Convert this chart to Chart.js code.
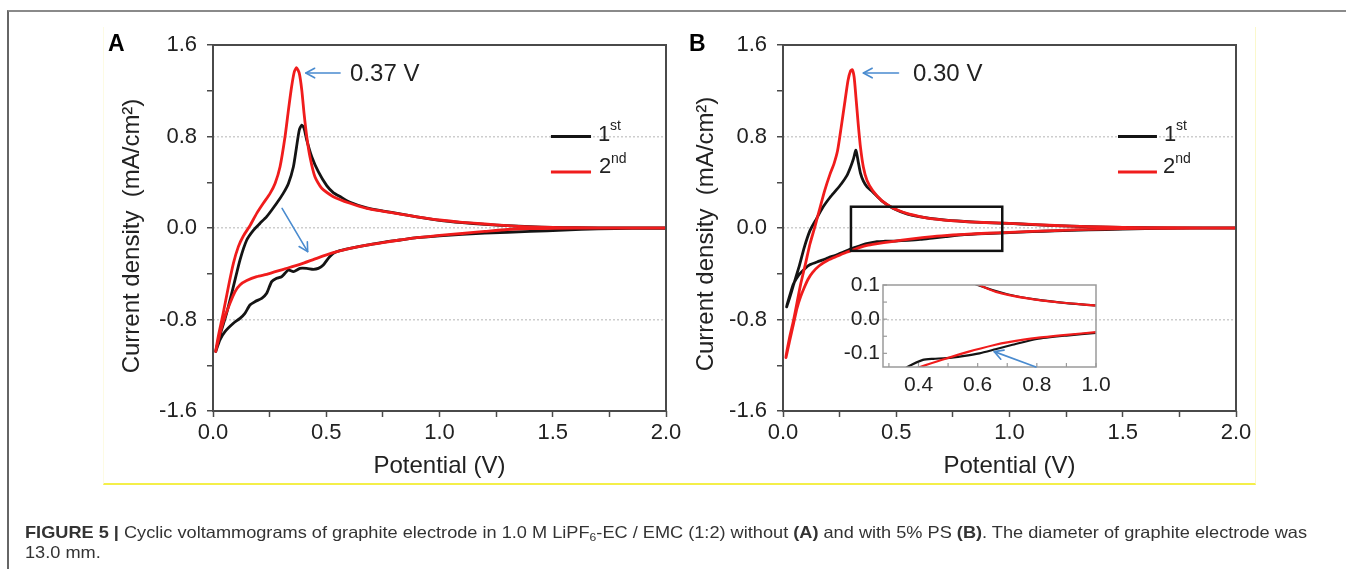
<!DOCTYPE html>
<html><head><meta charset="utf-8">
<script src="https://cdn.jsdelivr.net/npm/chart.js@4.4.1/dist/chart.umd.min.js"></script>
<style>
html,body{margin:0;padding:0;background:#fff;}
body{width:1346px;height:569px;overflow:hidden;position:relative;font-family:"Liberation Sans",Arial,sans-serif;}
.frame{position:absolute;left:7px;top:10px;width:1339px;height:559px;border-left:2px solid #666;border-top:2px solid #8a8a8a;}
.yel{position:absolute;left:103px;top:27px;width:1151px;height:456px;border-right:1px solid #fbf8cc;border-left:1px solid #fdfbe4;border-bottom:2px solid #f4ef4a;}
canvas{position:absolute;left:0;top:0;}
.cap{position:absolute;left:25px;font-size:16.5px;line-height:20px;color:#333;white-space:nowrap;transform-origin:0 50%;}
.cap sub{font-size:11px;vertical-align:-3px;line-height:0;}
</style></head><body>
<div class="frame"></div>
<div class="yel"></div>
<canvas id="cA" width="1346" height="569"></canvas>
<canvas id="cB" width="1346" height="569"></canvas>
<canvas id="cI" width="1346" height="569"></canvas>
<div id="cap1" class="cap" style="top:522px"><b>FIGURE 5 |</b> Cyclic voltammograms of graphite electrode in 1.0 M LiPF<sub>6</sub>-EC / EMC (1:2) without <b>(A)</b> and with 5% PS <b>(B)</b>. The diameter of graphite electrode was</div>
<div id="cap2" class="cap" style="top:542px">13.0 mm.</div>
<script>
// ---------------- DATA (potential V, current density mA/cm2) ----------------
const A_1st = [[2.0,-0.002],[1.85,-0.004],[1.7,-0.008],[1.55,-0.018],[1.4,-0.03],[1.2,-0.045],[1.0,-0.068],[0.9,-0.085],[0.826,-0.105],[0.75,-0.125],[0.679,-0.149],[0.605,-0.178],[0.56,-0.198],[0.531,-0.221],[0.509,-0.265],[0.487,-0.323],[0.465,-0.353],[0.443,-0.361],[0.414,-0.353],[0.384,-0.353],[0.355,-0.382],[0.333,-0.367],[0.318,-0.396],[0.303,-0.426],[0.281,-0.44],[0.259,-0.469],[0.237,-0.571],[0.215,-0.615],[0.185,-0.644],[0.163,-0.673],[0.141,-0.746],[0.119,-0.79],[0.09,-0.833],[0.053,-0.906],[0.03,-0.98],[0.012,-1.08],
  [0.031,-0.935],[0.06,-0.746],[0.09,-0.513],[0.119,-0.28],[0.149,-0.105],[0.178,-0.02],[0.207,0.04],[0.237,0.099],[0.281,0.216],[0.31,0.303],[0.333,0.39],[0.355,0.536],[0.369,0.711],[0.381,0.857],[0.392,0.9],[0.402,0.872],[0.414,0.769],[0.436,0.623],[0.465,0.492],[0.502,0.37],[0.531,0.31],[0.561,0.275],[0.605,0.225],[0.679,0.176],[0.752,0.148],[0.826,0.124],[0.9,0.098],[1.0,0.067],[1.1,0.047],[1.2,0.032],[1.3,0.02],[1.4,0.011],[1.5,0.005],[1.6,0.002],[1.8,0.0],[2.0,0.0]];
const A_2nd = [[2.0,0.0],[1.7,-0.001],[1.5,-0.003],[1.4,-0.006],[1.3,-0.013],[1.2,-0.03],[1.1,-0.048],[1.0,-0.065],[0.9,-0.085],[0.826,-0.105],[0.75,-0.127],[0.679,-0.149],[0.605,-0.178],[0.531,-0.216],[0.458,-0.265],[0.384,-0.318],[0.311,-0.361],[0.237,-0.405],[0.193,-0.425],[0.149,-0.46],[0.119,-0.498],[0.097,-0.557],[0.075,-0.658],[0.053,-0.775],[0.031,-0.921],[0.012,-1.08],
  [0.023,-0.95],[0.045,-0.746],[0.068,-0.513],[0.09,-0.309],[0.112,-0.163],[0.134,-0.07],[0.163,0.02],[0.193,0.128],[0.222,0.216],[0.252,0.303],[0.274,0.39],[0.296,0.536],[0.318,0.798],[0.333,1.031],[0.347,1.235],[0.359,1.366],[0.369,1.401],[0.381,1.352],[0.392,1.206],[0.402,1.002],[0.414,0.798],[0.428,0.623],[0.45,0.448],[0.48,0.347],[0.531,0.274],[0.605,0.216],[0.679,0.172],[0.826,0.122],[0.9,0.098],[1.0,0.07],[1.1,0.05],[1.2,0.035],[1.3,0.02],[1.4,0.01],[1.5,0.005],[1.6,0.002],[1.8,0.0],[2.0,0.0]];
const B_1st = [[2.0,0.0],[1.8,-0.001],[1.6,-0.005],[1.5,-0.01],[1.35,-0.016],[1.2,-0.025],[1.1,-0.032],[1.0,-0.04],[0.9,-0.048],[0.8,-0.058],[0.718,-0.075],[0.66,-0.088],[0.606,-0.1],[0.55,-0.108],[0.494,-0.114],[0.45,-0.116],[0.415,-0.119],[0.364,-0.139],[0.34,-0.155],[0.306,-0.178],[0.28,-0.2],[0.241,-0.232],[0.2,-0.26],[0.16,-0.29],[0.12,-0.32],[0.094,-0.36],[0.07,-0.41],[0.046,-0.49],[0.03,-0.59],[0.016,-0.69],
  [0.028,-0.62],[0.046,-0.5],[0.07,-0.345],[0.094,-0.169],[0.119,-0.023],[0.143,0.064],[0.176,0.181],[0.208,0.269],[0.233,0.327],[0.257,0.385],[0.282,0.458],[0.298,0.531],[0.311,0.604],[0.322,0.68],[0.332,0.58],[0.342,0.48],[0.355,0.41],[0.371,0.36],[0.396,0.315],[0.436,0.237],[0.485,0.173],[0.55,0.122],[0.6,0.1],[0.7,0.073],[0.8,0.057],[0.9,0.047],[1.0,0.04],[1.1,0.03],[1.2,0.021],[1.35,0.011],[1.5,0.005],[1.7,0.001],[2.0,0.0]];
const B_2nd = [[2.0,0.0],[1.7,-0.002],[1.5,-0.006],[1.3,-0.015],[1.1,-0.03],[1.0,-0.038],[0.9,-0.046],[0.8,-0.055],[0.7,-0.068],[0.66,-0.075],[0.57,-0.095],[0.48,-0.119],[0.41,-0.139],[0.371,-0.152],[0.34,-0.17],[0.306,-0.195],[0.28,-0.212],[0.241,-0.245],[0.2,-0.28],[0.16,-0.33],[0.13,-0.39],[0.11,-0.45],[0.094,-0.52],[0.078,-0.6],[0.062,-0.7],[0.046,-0.84],[0.03,-0.98],[0.013,-1.133],
  [0.029,-0.958],[0.046,-0.812],[0.062,-0.651],[0.078,-0.491],[0.099,-0.315],[0.119,-0.14],[0.14,0.006],[0.16,0.152],[0.184,0.327],[0.208,0.473],[0.225,0.561],[0.241,0.677],[0.257,0.882],[0.274,1.115],[0.287,1.29],[0.298,1.372],[0.306,1.384],[0.314,1.32],[0.322,1.145],[0.332,0.911],[0.342,0.707],[0.355,0.531],[0.371,0.415],[0.396,0.327],[0.436,0.239],[0.485,0.175],[0.55,0.125],[0.6,0.102],[0.662,0.08],[0.774,0.06],[0.887,0.048],[1.0,0.04],[1.1,0.031],[1.2,0.022],[1.35,0.012],[1.5,0.006],[1.7,0.002],[2.0,0.0]];

const SERIES_NAMES = ['1st', '2nd'];
const X_TICK_VALUES = [0, 0.5, 1.0, 1.5, 2.0];
const X_TICK_LABELS = ['0.0', '0.5', '1.0', '1.5', '2.0'];
const X_MINOR = [0.25, 0.75, 1.25, 1.75];
const Y_TICK_VALUES = [-1.6, -0.8, 0, 0.8, 1.6];
const Y_TICK_LABELS = ['-1.6', '-0.8', '0.0', '0.8', '1.6'];
const Y_MINOR = [-1.2, -0.4, 0.4, 1.2];
const Y_GRID = [-0.8, 0, 0.8];
const INSET_X_VALUES = [0.4, 0.6, 0.8, 1.0];
const INSET_X_LABELS = ['0.4', '0.6', '0.8', '1.0'];
const INSET_X_MINOR = [0.3, 0.5, 0.7, 0.9];
const INSET_Y_VALUES = [-0.1, 0, 0.1];
const INSET_Y_LABELS = ['-0.1', '0.0', '0.1'];

// ---------------- STYLE ----------------
const FONT = "'Liberation Sans', Arial, sans-serif";
const RED = '#f01c1c', BLACK = '#141414', BLUE = '#4a8bcf', AXIS = '#4a4a4a', TXT = '#222';

const toXY = s => s.map(p => ({x: p[0], y: p[1]}));
const labelFor = (v, vals, labs) => { const k = vals.findIndex(t => Math.abs(t - v) < 1e-6); return k >= 0 ? labs[k] : ''; };
const sortNum = a => a.slice().sort((p, q) => p - q);

function drawArrow(ctx, x1, y1, x2, y2, color, w, head) {
  ctx.save();
  ctx.strokeStyle = color; ctx.lineWidth = w; ctx.lineCap = 'round'; ctx.lineJoin = 'round';
  ctx.beginPath(); ctx.moveTo(x1, y1); ctx.lineTo(x2, y2); ctx.stroke();
  const a = Math.atan2(y2 - y1, x2 - x1);
  ctx.beginPath();
  ctx.moveTo(x2 - head * Math.cos(a - 0.5), y2 - head * Math.sin(a - 0.5));
  ctx.lineTo(x2, y2);
  ctx.lineTo(x2 - head * Math.cos(a + 0.5), y2 - head * Math.sin(a + 0.5));
  ctx.stroke();
  ctx.restore();
}

const overlay = {
  id: 'overlay',
  afterDraw(chart, args, o) {
    const {ctx, chartArea: ca} = chart;
    const X = chart.scales.x, Y = chart.scales.y;
    const px = v => X.getPixelForValue(v), py = v => Y.getPixelForValue(v);
    ctx.save();
    ctx.strokeStyle = o.frameColor; ctx.lineWidth = o.frameWidth;
    ctx.strokeRect(ca.left, ca.top, ca.right - ca.left, ca.bottom - ca.top);
    if (o.inX) {
      ctx.lineWidth = 1.2; ctx.strokeStyle = o.frameColor;
      o.inX.forEach(v => { const x = px(v); ctx.beginPath(); ctx.moveTo(x, ca.bottom); ctx.lineTo(x, ca.bottom - 4); ctx.stroke(); });
      o.inY.forEach(v => { const y = py(v); ctx.beginPath(); ctx.moveTo(ca.left, y); ctx.lineTo(ca.left + 4, y); ctx.stroke(); });
    }
    if (o.panel) {
      ctx.fillStyle = '#000'; ctx.font = 'bold 23px ' + FONT; ctx.textAlign = 'left'; ctx.textBaseline = 'alphabetic';
      ctx.fillText(o.panel.text, o.panel.x, o.panel.y);
    }
    if (o.yTitle) {
      ctx.save();
      ctx.translate(o.yTitle.x, o.yTitle.y); ctx.rotate(-Math.PI / 2);
      ctx.fillStyle = TXT; ctx.font = '24px ' + FONT; ctx.textAlign = 'center'; ctx.textBaseline = 'middle';
      ctx.fillText(o.yTitle.text, 0, 0);
      ctx.restore();
    }
    if (o.legend) {
      o.legend.forEach(it => {
        ctx.strokeStyle = it.color; ctx.lineWidth = 3; ctx.lineCap = 'butt';
        ctx.beginPath(); ctx.moveTo(px(it.v1), py(it.i)); ctx.lineTo(px(it.v2), py(it.i)); ctx.stroke();
        ctx.fillStyle = TXT; ctx.textAlign = 'left'; ctx.textBaseline = 'middle';
        ctx.font = '22px ' + FONT; ctx.fillText(it.text, px(it.tv), py(it.ti));
        ctx.font = '14px ' + FONT; ctx.fillText(it.sup, px(it.sv), py(it.si));
      });
    }
    if (o.peak) {
      const p = o.peak;
      drawArrow(ctx, px(p.from[0]), py(p.from[1]), px(p.to[0]), py(p.to[1]), BLUE, 1.6, 10);
      ctx.fillStyle = TXT; ctx.font = '24px ' + FONT; ctx.textAlign = 'left'; ctx.textBaseline = 'middle';
      ctx.fillText(p.text, px(p.tv), py(p.ti));
    }
    (o.arrows || []).forEach(a => drawArrow(ctx, px(a[0]), py(a[1]), px(a[2]), py(a[3]), BLUE, 1.6, 10));
    if (o.rect) {
      ctx.strokeStyle = '#111'; ctx.lineWidth = 2.5;
      const r = o.rect;
      ctx.strokeRect(px(r[0]), py(r[3]), px(r[2]) - px(r[0]), py(r[1]) - py(r[3]));
    }
    ctx.restore();
  }
};

function datasets(s1, s2, w) {
  const common = {showLine: true, pointRadius: 0, tension: 0.2, fill: false, borderJoinStyle: 'round', borderCapStyle: 'round'};
  return [
    Object.assign({label: SERIES_NAMES[1], data: toXY(s2), borderColor: RED, borderWidth: w, order: 0}, common),
    Object.assign({label: SERIES_NAMES[0], data: toXY(s1), borderColor: BLACK, borderWidth: w, order: 1}, common)
  ];
}

function mainChart(id, s1, s2, padL, padR, ov) {
  const xAll = sortNum(X_TICK_VALUES.concat(X_MINOR));
  const yAll = sortNum(Y_TICK_VALUES.concat(Y_MINOR));
  return new Chart(document.getElementById(id), {
    type: 'scatter',
    data: {datasets: datasets(s1, s2, 2.8)},
    options: {
      responsive: false, animation: false, events: [], devicePixelRatio: 1,
      layout: {padding: {left: padL, right: padR, top: 45, bottom: 78}},
      plugins: {legend: {display: false}, tooltip: {enabled: false}, overlay: ov},
      scales: {
        x: {
          type: 'linear', min: 0, max: 2,
          afterFit: s => { s.height = 80; },
          afterBuildTicks: s => { s.ticks = xAll.map(v => ({value: v})); },
          ticks: {callback: v => labelFor(v, X_TICK_VALUES, X_TICK_LABELS), autoSkip: false, maxRotation: 0, padding: 3, color: TXT, font: {family: FONT, size: 22}},
          grid: {drawOnChartArea: false, drawTicks: true, tickLength: 6, tickWidth: 1.5, tickColor: AXIS},
          border: {display: false},
          title: {display: true, text: 'Potential (V)', color: TXT, font: {family: FONT, size: 24}, padding: {top: 0, bottom: 10}}
        },
        y: {
          type: 'linear', min: -1.6, max: 1.6,
          afterFit: s => { s.width = 100; },
          afterBuildTicks: s => { s.ticks = yAll.map(v => ({value: v})); },
          ticks: {callback: v => labelFor(v, Y_TICK_VALUES, Y_TICK_LABELS), autoSkip: false, padding: 10, color: TXT, font: {family: FONT, size: 22}},
          grid: {
            drawOnChartArea: true, drawTicks: true, tickLength: 6, tickWidth: 1.5, tickColor: AXIS, lineWidth: 1.5,
            color: c => (c.tick && Y_GRID.some(g => Math.abs(g - c.tick.value) < 1e-6)) ? '#cdcdcd' : 'rgba(0,0,0,0)'
          },
          border: {display: false, dash: [2, 2]}
        }
      }
    },
    plugins: [overlay]
  });
}

const YTITLE = 'Current density  (mA/cm\u00B2)';

mainChart('cA', A_1st, A_2nd, 113, 680, {
  frameColor: AXIS, frameWidth: 2,
  panel: {text: 'A', x: 108, y: 51},
  yTitle: {text: YTITLE, x: 132, y: 236},
  legend: [
    {color: BLACK, v1: 1.492, v2: 1.669, i: 0.8, text: '1', tv: 1.70, ti: 0.81, sup: 'st', sv: 1.753, si: 0.89},
    {color: RED, v1: 1.492, v2: 1.669, i: 0.49, text: '2', tv: 1.704, ti: 0.53, sup: 'nd', sv: 1.757, si: 0.6}
  ],
  peak: {from: [0.561, 1.355], to: [0.41, 1.355], text: '0.37 V', tv: 0.605, ti: 1.34},
  arrows: [[0.305, 0.172, 0.418, -0.207]]
});

mainChart('cB', B_1st, B_2nd, 683, 110, {
  frameColor: AXIS, frameWidth: 2,
  panel: {text: 'B', x: 689, y: 51},
  yTitle: {text: YTITLE, x: 706, y: 234},
  legend: [
    {color: BLACK, v1: 1.479, v2: 1.651, i: 0.8, text: '1', tv: 1.682, ti: 0.81, sup: 'st', sv: 1.735, si: 0.89},
    {color: RED, v1: 1.479, v2: 1.651, i: 0.49, text: '2', tv: 1.678, ti: 0.53, sup: 'nd', sv: 1.732, si: 0.6}
  ],
  peak: {from: [0.51, 1.355], to: [0.355, 1.355], text: '0.30 V', tv: 0.574, ti: 1.34},
  rect: [0.3, -0.2, 0.968, 0.186]
});

new Chart(document.getElementById('cI'), {
  type: 'scatter',
  data: {datasets: datasets(B_1st, B_2nd, 2.2)},
  options: {
    responsive: false, animation: false, events: [], devicePixelRatio: 1,
    layout: {padding: {left: 833, right: 250, top: 285, bottom: 162}},
    plugins: {legend: {display: false}, tooltip: {enabled: false}, overlay: {
      frameColor: '#9a9a9a', frameWidth: 1.5, inX: INSET_X_MINOR.concat(INSET_X_VALUES), inY: INSET_Y_VALUES.concat([-0.05, 0.05]),
      arrows: [[0.797, -0.14, 0.656, -0.095]]
    }},
    scales: {
      x: {
        type: 'linear', min: 0.28, max: 1.0,
        afterFit: s => { s.height = 40; },
        afterBuildTicks: s => { s.ticks = INSET_X_VALUES.map(v => ({value: v})); },
        ticks: {callback: v => labelFor(v, INSET_X_VALUES, INSET_X_LABELS), autoSkip: false, maxRotation: 0, padding: 6, color: TXT, font: {family: FONT, size: 21}},
        grid: {display: false, drawTicks: false}, border: {display: false}
      },
      y: {
        type: 'linear', min: -0.14, max: 0.1,
        afterFit: s => { s.width = 50; },
        afterBuildTicks: s => { s.ticks = INSET_Y_VALUES.map(v => ({value: v})); },
        ticks: {callback: v => labelFor(v, INSET_Y_VALUES, INSET_Y_LABELS), autoSkip: false, padding: 3, color: TXT, font: {family: FONT, size: 21}},
        grid: {display: false, drawTicks: false}, border: {display: false}
      }
    }
  },
  plugins: [overlay]
});

(function () {
  const c1 = document.getElementById('cap1'), c2 = document.getElementById('cap2');
  const w = c1.getBoundingClientRect().width;
  const k = 1282 / w;
  c1.style.transform = 'scaleX(' + k + ')';
  c2.style.transform = 'scaleX(' + k + ')';
})();
</script>
</body></html>
